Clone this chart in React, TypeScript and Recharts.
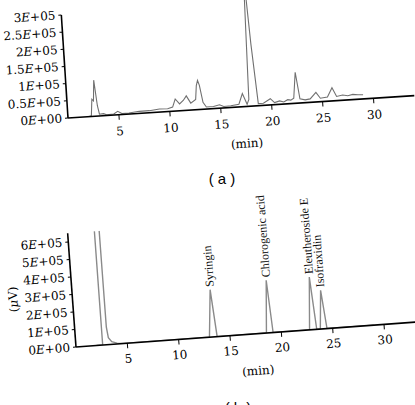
import { LineChart, Line, XAxis, YAxis, ReferenceLine, LabelList } from 'recharts'

// panel (a): sample chromatogram
const aTime = [2.0, 2.3, 2.45, 2.6, 2.75, 2.95, 3.1, 3.5, 3.8, 4.5, 4.9, 5.3, 6.0, 7.0, 8.0, 9.0, 9.8, 10.3, 10.6, 11.0, 11.4, 11.7, 12.1, 12.6, 12.75, 12.9, 13.05, 13.3, 13.6, 14.3, 14.9, 15.3, 16.0, 16.8, 17.2, 17.6, 17.8, 18.05, 18.35, 18.7, 19.2, 19.9, 20.3, 20.8, 21.2, 21.6, 21.9, 22.2, 22.5, 22.8, 23.3, 23.8, 24.4, 24.8, 25.5, 26.0, 26.4, 27.0, 27.5, 28.0, 28.5, 29.0]
const aSignal = [0, 2000, 50000, 45000, 105000, 30000, 5000, 6000, 2000, 3000, 10000, 3000, 3000, 6000, 6000, 9000, 8000, 12000, 35000, 20000, 30000, 42000, 20000, 30000, 70000, 85000, 70000, 20000, 6000, 6000, 10000, 4000, 5000, 8000, 38000, 6000, 20000, 390000, 180000, 6000, 6000, 18000, 6000, 10000, 6000, 12000, 10000, 15000, 90000, 12000, 8000, 10000, 28000, 10000, 12000, 38000, 12000, 15000, 12000, 15000, 13000, 12000]
const aYTicks = [0, 50000, 100000, 150000, 200000, 250000, 300000]
const aYLabels = ['0E+00', '0.5E+05', '1E+05', '1.5E+05', '2E+05', '2.5E+05', '3E+05']

// panel (b): standards
const bTime = [2.0, 2.6, 2.65, 2.95, 3.08, 3.2, 3.5, 4.0, 4.6, 13.0, 13.4, 13.75, 18.55, 18.9, 19.2, 22.75, 23.1, 23.45, 23.8, 24.1, 24.45, 29.0]
const bSignal = [0, 0, 8000000, 8000000, 100000, 40000, 15000, 5000, 0, 0, 270000, 0, 0, 300000, 0, 0, 300000, 0, 0, 220000, 0, 0]
const bPeakNames = ['', '', '', '', '', '', '', '', '', '', 'Syringin', '', '', 'Chlorogenic acid', '', '', 'Eleutheroside E', '', '', 'Isofraxidin', '', '']
const bYTicks = [0, 100000, 200000, 300000, 400000, 500000, 600000]
const bYLabels = ['0E+00', '1E+05', '2E+05', '3E+05', '4E+05', '5E+05', '6E+05']

const xTicks = [5, 10, 15, 20, 25, 30]

const aData = aTime.map((t, i) => ({ t, v: aSignal[i] }))
const bData = bTime.map((t, i) => ({ t, v: bSignal[i], name: bPeakNames[i] }))

const serif = 'DejaVu Serif'
const tickFont = { fontFamily: serif, fontSize: 12, fill: '#000' }

function SciTick(props: any) {
  const { x, y, payload, ticks, labels } = props
  const label: string = labels[ticks.indexOf(payload.value)] ?? ''
  const [m, e] = label.split('E')
  return (
    <text x={x} y={y} dy="0.35em" textAnchor="end" fontFamily={serif} fontSize={12} fill="#000">
      {m}
      <tspan fontStyle="italic">E</tspan>
      {e}
    </text>
  )
}

function PeakLabel(props: any) {
  const { x, y, value } = props
  if (!value) return null
  return (
    <text
      x={x + 3}
      y={y + 4}
      transform={`rotate(-90 ${x} ${y})`}
      fontFamily="Liberation Serif"
      fontSize={12}
      fill="#111"
    >
      {value}
    </text>
  )
}

const centered = (left: number, top: number, rotate = 0): React.CSSProperties => ({
  position: 'absolute',
  left,
  top,
  transform: `translate(-50%, -50%) rotate(${rotate}deg)`,
  whiteSpace: 'nowrap',
  fontFamily: serif,
  fontSize: 12,
  color: '#000',
})

export default function App() {
  return (
    <div style={{ position: 'absolute', left: 0, top: 0, width: 415, height: 405, overflow: 'hidden', background: '#fff' }}>
      <div style={{ position: 'absolute', left: 0, top: 0, transform: 'rotate(-3.7deg)', transformOrigin: '68px 118px' }}>
        <LineChart width={430} height={160} data={aData} margin={{ top: 1, right: 15, left: 8, bottom: 12 }}>
          <XAxis
            dataKey="t"
            type="number"
            domain={[0, 34]}
            ticks={xTicks}
            tick={tickFont}
            tickSize={5}
            tickMargin={7}
            height={30}
            axisLine={{ stroke: '#000', strokeWidth: 1.6 }}
            tickLine={{ stroke: '#000' }}
          />
          <YAxis
            type="number"
            domain={[0, 340000]}
            allowDataOverflow
            ticks={aYTicks}
            interval={0}
            width={60}
            tickSize={3}
            tickMargin={3}
            axisLine={false}
            tickLine={{ stroke: '#000' }}
            tick={(p: any) => <SciTick {...p} ticks={aYTicks} labels={aYLabels} />}
          />
          <ReferenceLine segment={[{ x: 0, y: 0 }, { x: 0, y: 300000 }]} stroke="#000" strokeWidth={1.6} />
          <Line type="linear" dataKey="v" stroke="#707070" strokeWidth={1.1} dot={false} isAnimationActive={false} />
        </LineChart>
        <div style={centered(245, 155)}>(min)</div>
        <div style={centered(-5, 62, -90)}>(<i>μ</i>V)</div>
      </div>

      <div style={{ position: 'absolute', left: 222, top: 178, transform: 'translate(-50%, -50%)', fontFamily: 'Liberation Sans', fontSize: 15, whiteSpace: 'pre' }}>( a )</div>

      <div style={{ position: 'absolute', left: 0, top: 200, transform: 'rotate(-4.2deg)', transformOrigin: '76px 147px' }}>
        <LineChart width={440} height={190} data={bData} margin={{ top: 33, right: 14, left: 16, bottom: 13 }}>
          <XAxis
            dataKey="t"
            type="number"
            domain={[0, 34]}
            ticks={xTicks}
            tick={tickFont}
            tickSize={5}
            tickMargin={6}
            height={30}
            axisLine={{ stroke: '#000', strokeWidth: 1.6 }}
            tickLine={{ stroke: '#000' }}
          />
          <YAxis
            type="number"
            domain={[0, 650000]}
            allowDataOverflow
            ticks={bYTicks}
            interval={0}
            width={60}
            tickSize={3}
            tickMargin={3}
            axisLine={{ stroke: '#000', strokeWidth: 1.6 }}
            tickLine={{ stroke: '#000' }}
            tick={(p: any) => <SciTick {...p} ticks={bYTicks} labels={bYLabels} />}
          />
          <Line type="linear" dataKey="v" stroke="#8a8a8a" strokeWidth={1.4} dot={false} isAnimationActive={false}>
            <LabelList dataKey="name" content={PeakLabel} />
          </Line>
        </LineChart>
        <div style={centered(256, 184)}>(min)</div>
        <div style={centered(17, 95, -90)}>(<i>μ</i>V)</div>
      </div>

      <div style={{ position: 'absolute', left: 238, top: 407, transform: 'translate(-50%, -50%)', fontFamily: 'Liberation Sans', fontSize: 15, whiteSpace: 'pre' }}>( b )</div>
    </div>
  )
}
